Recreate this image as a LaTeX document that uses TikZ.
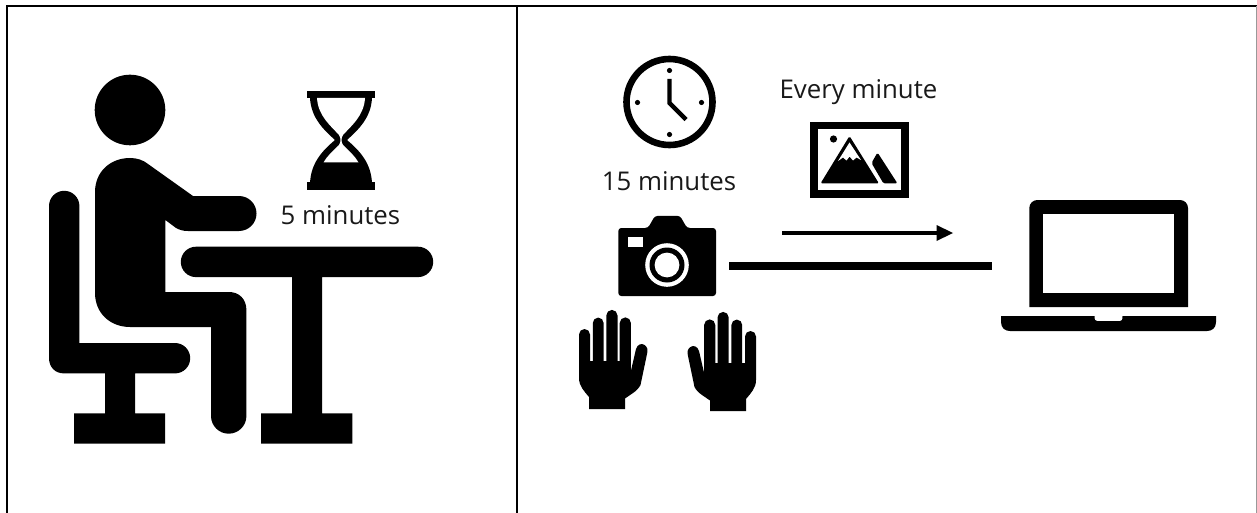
\documentclass[tikz,border=0pt]{standalone}
\usepackage{fontspec}
\setmainfont{Open Sans}
\tikzset{
  ink/.style={fill=black,draw=none},
  paper/.style={fill=white,draw=none},
  frameline/.style={draw=black,line width=2pt},
  lbl/.style={inner sep=0pt,font=\fontsize{25.8}{30}\selectfont,text=black!90},
  link/.style={draw=black,line width=8pt},
  flowarrow/.style={draw=black,line width=4.6pt},
}
\newcommand{\handshape}{%
  \fill[black] (579,334.5) arc[start angle=180,end angle=360,radius=5.5] -- (590,361) -- (592.8,361)
    -- (592.8,323) arc[start angle=180,end angle=360,radius=5.4] -- (603.6,361) -- (606.3,361)
    -- (606.3,315.5) arc[start angle=180,end angle=360,radius=5.6] -- (617.5,361) -- (619.7,361)
    -- (619.7,323) arc[start angle=180,end angle=360,radius=5.6] -- (630.9,361) -- (630.9,371)
    -- (636,349) .. controls (637.5,344) and (642,343) .. (644.5,345) .. controls (647.5,347) and (648,350) .. (647,354)
    -- (640.5,385) .. controls (639,388) and (636,391) .. (633,393) -- (625,398.5) -- (625,409) -- (589,409) -- (589,397)
    .. controls (584,391) and (579,386) .. (579,378) -- cycle;
}
\begin{document}
\begin{tikzpicture}[x=1pt,y=-1pt]
\useasboundingbox (0,0) rectangle (1257,513);
% frame
\coordinate (tl) at (7,6); \coordinate (tr) at (1257,6);
\coordinate (bl) at (7,513); \coordinate (tm) at (516.5,6); \coordinate (bm) at (516.5,513);
\draw[frameline] (tr) -- (tl) -- (bl);
\draw[frameline] (tm) -- (bm);
\draw[draw=black!40,line width=1pt] (1256.5,6) -- (1256.5,513);
% person
\fill[black] (130,110) circle[radius=35.3];
\path[ink] (130,158) .. controls (110,158) and (95,172) .. (95,192) -- (95,293)
  .. controls (95,313) and (110,327) .. (130,327) -- (211,327) -- (211,416)
  arc[start angle=180,end angle=0,radius=17.7] -- (246.4,310)
  .. controls (246.4,299) and (239,292) .. (229,292) -- (165.4,292) -- (165.4,220) -- (176,228)
  .. controls (180,230) and (183,231) .. (188,231) -- (239,231)
  arc[start angle=90,end angle=-90,radius=17.5] -- (193,196) -- (148,164)
  .. controls (143,160) and (137,158) .. (130,158) -- cycle;
% chair
\path[ink] (49,206) arc[start angle=180,end angle=360,radius=15.2] -- (79.4,343) -- (175,343)
  arc[start angle=-90,end angle=90,radius=15.2] -- (135,373.4) -- (135,413.4) -- (165,413.4) -- (165,443.5)
  -- (74,443.5) -- (74,413.4) -- (105,413.4) -- (105,373.4) -- (64,373.4)
  .. controls (55,373.4) and (49,367) .. (49,358) -- cycle;
% table
\path[ink] (196,246.7) -- (418,246.7) arc[start angle=-90,end angle=90,radius=15.2] -- (322,277.1)
  -- (322,413.4) -- (352.3,413.4) -- (352.3,443.5) -- (261,443.5) -- (261,413.4) -- (292,413.4) -- (292,277.1)
  -- (196,277.1) arc[start angle=90,end angle=270,radius=15.2] -- cycle;
% hourglass
\path[ink] (306.5,91) rectangle (375.2,98.5);
\path[ink] (306.5,182) rectangle (375.2,189.5);
\path[ink] (310,98) .. controls (311,118) and (324,130) .. (335,140)
  .. controls (322,151) and (311,163) .. (310,183) -- (372,183)
  .. controls (371,163) and (360,151) .. (347,140)
  .. controls (358,130) and (371,118) .. (372,98) -- cycle;
\path[paper] (317,98) .. controls (318,116) and (331,126) .. (339,135)
  .. controls (341,138) and (341,142) .. (339,145) .. controls (333,151) and (327,156) .. (323.5,162.5)
  -- (358.5,162.5) .. controls (355,156) and (349,151) .. (343,145)
  .. controls (341,142) and (341,138) .. (343,135)
  .. controls (351,126) and (364,116) .. (365,98) -- cycle;
\node[lbl] (five) at (340.5,215.5) {5 minutes};
% clock
\draw[black,line width=6.6pt] (669.5,102) circle[radius=43];
\foreach \a/\b in {669.5/70.5,669.5/134.5,637.5/102.5,701.5/102.5} \fill[black] (\a,\b) circle[radius=2.6];
\draw[black,line width=4.4pt,line join=miter] (669.5,79) -- (669.5,103) -- (686,119.5);
\node[lbl] (fifteen) at (669,181.5) {15 minutes};
% camera
\path[ink,rounded corners=3pt] (618.3,228) -- (648,228) -- (655,215.8) -- (680,215.8) -- (687,228) -- (716,228) -- (716,296) -- (618.3,296) -- cycle;
\path[paper] (628,237) rectangle (643,247.3);
\fill[white] (667,265) circle[radius=21.8];
\fill[black] (667,265) circle[radius=17.5];
\fill[white] (667,265) circle[radius=12.4];
% hands
\handshape
\begin{scope}[xscale=-1,shift={(-1335,2)}]\handshape\end{scope}
% text and picture
\node[lbl] (every) at (858.5,92) {Every minute};
\path[ink] (810,122) rectangle (909,198);
\path[paper] (818,129.5) rectangle (901,190);
\fill[black] (833.5,139) circle[radius=3.6];
\path[ink,rounded corners=1.5pt] (849.5,136) -- (879,183.5) -- (820.5,183.5) -- cycle;
\path[paper] (849.5,142.5) -- (861,160) -- (856.5,157.5) -- (853,160.5) -- (849.5,156.5) -- (846.5,160.5) -- (843,157.5) -- (838,161) -- cycle;
\path[ink,rounded corners=1.5pt] (877.5,152.5) -- (897.5,183.5) -- (883.5,183.5) -- (871.5,163) -- cycle;
% arrow
\coordinate (af) at (782,233); \coordinate (at) at (938,233);
\draw[flowarrow] (af) -- (at);
\path[ink] (936.5,225) -- (953,233) -- (936.5,241) -- cycle;
% link
\coordinate (camright) at (729,266); \coordinate (lapleft) at (992,266);
\draw[link] (camright) -- (lapleft);
% laptop
\path[ink] (1029.3,307) -- (1029.3,208) arc[start angle=180,end angle=270,radius=8] -- (1180,200)
  arc[start angle=270,end angle=360,radius=8] -- (1188,307) -- cycle;
\path[paper] (1043.3,214) rectangle (1174,293);
\path[ink] (1001,316) -- (1094.5,316) .. controls (1094.5,320) and (1095,321) .. (1097,321) -- (1120,321)
  .. controls (1122,321) and (1122.5,320) .. (1122.5,316) -- (1216,316) -- (1216,322)
  .. controls (1216,328) and (1212,331) .. (1207,331) -- (1010,331) .. controls (1005,331) and (1001,328) .. (1001,322) -- cycle;
\end{tikzpicture}
\end{document}
